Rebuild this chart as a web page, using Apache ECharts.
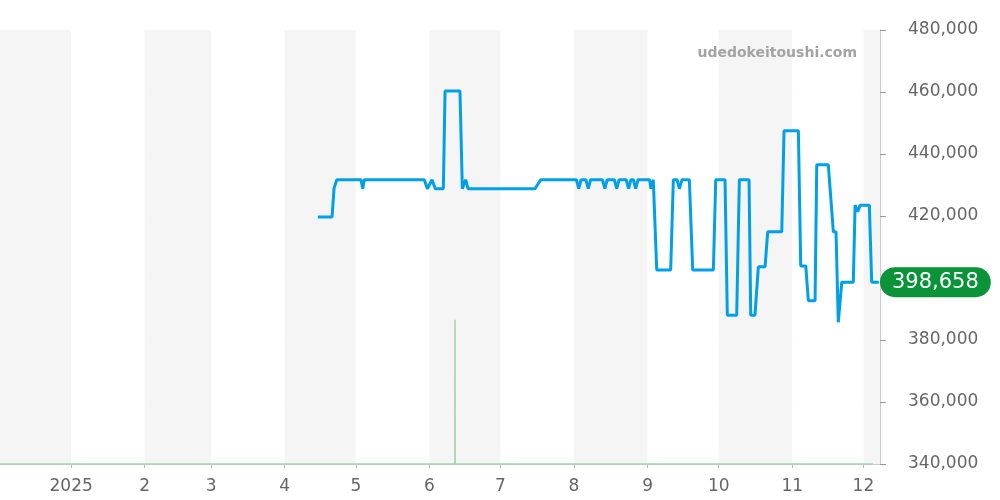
<!DOCTYPE html>
<html>
<head>
<meta charset="utf-8">
<style>html,body{margin:0;padding:0;background:#fff}#c{width:1000px;height:500px}</style>
<script src="https://cdn.jsdelivr.net/npm/echarts@6/dist/echarts.min.js"></script>
</head>
<body>
<div id="c"></div>
<script>
const xMin = '2024-12-02';
const xMax = '2025-12-08';
const yMin = 340000, yMax = 480000, yStep = 20000;
const lastPriceLabel = '398,658';
const lastPrice = 398658;
const watermark = 'udedokeitoushi.com';

const priceDates = [
'2025-04-15','2025-04-21','2025-04-21 20:00','2025-04-23','2025-05-03 05:00','2025-05-03 22:00','2025-05-04 14:00',
'2025-05-29 21:00','2025-05-31 04:00','2025-06-02 03:00','2025-06-03 12:00','2025-06-06 22:00','2025-06-07 15:00',
'2025-06-13 22:00','2025-06-14 22:00','2025-06-16 08:00','2025-06-17 07:00','2025-07-15 13:00','2025-07-17 23:00',
'2025-08-02','2025-08-03','2025-08-04','2025-08-06','2025-08-07','2025-08-08','2025-08-13','2025-08-14','2025-08-15',
'2025-08-18','2025-08-19','2025-08-20','2025-08-23','2025-08-24','2025-08-25','2025-08-26','2025-08-27','2025-08-28',
'2025-09-01 20:00','2025-09-02 11:00','2025-09-03 10:00','2025-09-04 21:00','2025-09-10 18:00','2025-09-11 21:00',
'2025-09-13 10:00','2025-09-14 10:00','2025-09-15 13:00','2025-09-18 15:00','2025-09-20 01:00','2025-09-28 18:00',
'2025-09-29 18:00','2025-10-03 16:00','2025-10-04 15:00','2025-10-08 14:00','2025-10-09 17:00','2025-10-13 19:00',
'2025-10-14 12:00','2025-10-16 07:00','2025-10-17 17:00','2025-10-20 13:00','2025-10-21 16:00','2025-10-27 14:00',
'2025-10-28 13:00','2025-11-03 14:00','2025-11-04 14:00','2025-11-06 17:00','2025-11-07 19:00','2025-11-10 15:00',
'2025-11-11 08:00','2025-11-16 05:00','2025-11-18 08:00','2025-11-19 11:00','2025-11-20 10:00','2025-11-21 21:00',
'2025-11-26 18:00','2025-11-27 12:00','2025-11-28 15:00','2025-11-29 14:00','2025-12-03 12:00','2025-12-04 12:00',
'2025-12-07 12:00'
];
const priceValues = [
419700,419700,429000,431700,431700,428800,431700,
431700,428800,431700,428800,428800,460300,
460300,428800,431700,428800,428800,431700,
431700,428800,431700,431700,428800,431700,431700,428800,431700,
431700,428800,431700,431700,428800,431700,431700,428800,431700,
431700,428800,431700,402600,402600,431700,
431700,428800,431700,431700,402600,402600,
431700,431700,388000,388000,431700,431700,
388000,388000,403600,403600,414900,414900,
447500,447500,403900,403900,392700,392700,
436500,436500,414900,414900,385700,398658,
398658,423500,421400,423500,423500,398658,
398658
];

const volDates = ['2024-12-02','2025-06-11 19:00','2025-06-11 20:00','2025-06-11 21:00','2025-12-05'];
const volValues = [340000,340000,386500,340000,340000];

const chart = echarts.init(document.getElementById('c'));
const font = 'DejaVu Sans';
chart.setOption({
  animation: false,
  textStyle: { fontFamily: font },
  title: {
    text: watermark, right: 138, top: 41,
    textStyle: { fontSize: 14, fontWeight: 'bold', color: '#a3a3a3', fontFamily: font }
  },
  grid: { left: 0, right: 120, top: 30, bottom: 36 },
  xAxis: {
    type: 'time', min: xMin, max: xMax,
    splitNumber: 12,
    maxInterval: 32 * 86400000,
    minInterval: 27 * 86400000,
    axisLine: { show: true, lineStyle: { color: '#cccccc' } },
    axisTick: { show: true, length: 4, lineStyle: { color: '#bbbbbb' } },
    splitLine: { show: false },
    splitArea: { show: true, areaStyle: { color: ['#f5f5f5', '#ffffff'] } },
    axisLabel: {
      color: '#666', fontSize: 17, margin: 14, fontFamily: font,
      formatter: function (v) {
        const d = new Date(v);
        return d.getMonth() === 0 ? String(d.getFullYear()) : String(d.getMonth() + 1);
      }
    }
  },
  yAxis: {
    type: 'value', position: 'right', min: yMin, max: yMax, interval: yStep,
    axisLine: { show: true, lineStyle: { color: '#cccccc' } },
    axisTick: { show: true, length: 6, lineStyle: { color: '#999' } },
    splitLine: { show: true, lineStyle: { color: '#e2e2e2' } },
    axisLabel: {
      color: '#666', fontSize: 17, margin: 28, fontFamily: font,
      formatter: function (v) { return v.toLocaleString('en-US'); }
    }
  },
  series: [
    {
      type: 'line', name: 'vol', symbol: 'none', z: 2,
      data: volDates.map((d, i) => [d, volValues[i]]),
      lineStyle: { color: '#9fd6aa', width: 1.5 }
    },
    {
      type: 'line', name: 'price', symbol: 'none', z: 3,
      data: priceDates.map((d, i) => [d, priceValues[i]]),
      lineStyle: { color: '#00a0e9', width: 3 },
      markLine: {
        silent: true, symbol: 'none',
        lineStyle: { color: 'transparent', width: 1, type: 'solid' },
        data: [{ yAxis: lastPrice }],
        label: {
          show: true, position: 'end', distance: 0,
          formatter: lastPriceLabel,
          color: '#fff', fontSize: 21, fontFamily: font,
          backgroundColor: '#0a9339', borderRadius: 16,
          padding: [5, 12, 4, 12]
        }
      }
    }
  ]
});
</script>
</body>
</html>
